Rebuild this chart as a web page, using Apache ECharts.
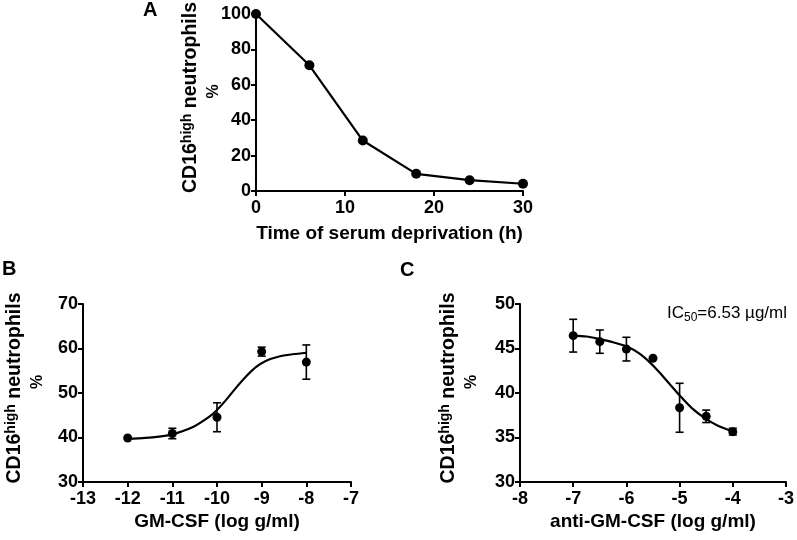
<!DOCTYPE html>
<html><head><meta charset="utf-8">
<script src="https://cdn.jsdelivr.net/npm/echarts@6.0.0/dist/echarts.min.js"></script>
<style>html,body{margin:0;padding:0;background:#fff}#c{width:797px;height:540px}</style>
</head><body><div id="c"></div>
<script>
// ---- Panel A: time course ----
const timeH = [0, 6, 12, 18, 24, 30];
const pctA = [100, 71, 28.5, 9.7, 6.1, 4.1];
const axisAx = [0, 30, 10];      // min, max, interval
const axisAy = [0, 100, 20];

// ---- Panel B: GM-CSF dose response ----
const gmX = [-12, -11, -10, -9, -8];
const gmMean = [39.9, 40.9, 44.55, 59.3, 56.95];
const gmErr = [0, 1.17, 3.25, 1.0, 3.85];
const gmCurveX = [-12, -11.6, -11.3, -11, -10.55, -10.17, -10, -9.8, -9.58, -9.35, -9.13, -8.91, -8.61, -8.31, -8];
const gmCurveY = [39.7, 39.9, 40.2, 40.7, 42.3, 44.7, 46.2, 48.4, 51.1, 53.7, 55.8, 57.2, 58.2, 58.7, 59.05];
const axisBx = [-13, -7, 1];
const axisBy = [30, 70, 10];

// ---- Panel C: anti-GM-CSF dose response ----
const antiX = [-7, -6.5, -6, -5.5, -5, -4.5, -4];
const antiMean = [46.44, 45.77, 44.93, 43.9, 38.34, 37.38, 35.66];
const antiErr = [1.84, 1.31, 1.33, 0, 2.75, 0.7, 0.38];
const antiCurveX = [-7, -6.75, -6.5, -6.25, -5.98, -5.76, -5.57, -5.39, -5.2, -4.98, -4.77, -4.52, -4.27, -4];
const antiCurveY = [46.45, 46.35, 46.05, 45.7, 45.2, 44.45, 43.5, 42.4, 41.1, 39.6, 38.3, 37.15, 36.3, 35.7];
const axisCx = [-8, -3, 1];
const axisCy = [30, 50, 5];

const panelLetters = ['A', 'B', 'C'];
const xTitles = ['Time of serum deprivation (h)', 'GM-CSF (log g/ml)', 'anti-GM-CSF (log g/ml)'];
const icText = ['IC', '50', '=6.53 µg/ml'];

const FF = '"Liberation Sans", Arial, sans-serif';
const BLACK = '#000';

function xAxisCfg(idx, rng, title, gap) {
  return {
    type: 'value', gridIndex: idx, min: rng[0], max: rng[1], interval: rng[2],
    name: title, nameLocation: 'middle', nameGap: gap, nameMoveOverlap: false,
    nameTextStyle: { fontFamily: FF, fontWeight: 'bold', fontSize: 19, color: BLACK },
    axisLine: { onZero: false, lineStyle: { color: BLACK, width: 2 } },
    axisTick: { show: true, length: 5, lineStyle: { color: BLACK, width: 2 } },
    axisLabel: { fontFamily: FF, fontWeight: 'bold', fontSize: 18, color: BLACK, margin: 8 },
    splitLine: { show: false }
  };
}
function yAxisCfg(idx, rng, gap) {
  return {
    type: 'value', gridIndex: idx, min: rng[0], max: rng[1], interval: rng[2],
    name: '{m|CD16}{s|high}{m| neutrophils}\n{p|%}', nameLocation: 'middle', nameGap: gap,
    nameMoveOverlap: false,
    nameTextStyle: {
      padding: [0, 0, 0, 10],
      rich: {
        m: { fontFamily: FF, fontWeight: 'bold', fontSize: 19.5, color: BLACK, lineHeight: 22 },
        s: { fontFamily: FF, fontWeight: 'bold', fontSize: 14, color: BLACK, lineHeight: 14, verticalAlign: 'top' },
        p: { fontFamily: FF, fontWeight: 'bold', fontSize: 16, color: BLACK, lineHeight: 23, padding: [0, 0, 0, 12] }
      }
    },
    axisLine: { onZero: false, lineStyle: { color: BLACK, width: 2 } },
    axisTick: { show: true, length: 5, lineStyle: { color: BLACK, width: 2 } },
    axisLabel: { fontFamily: FF, fontWeight: 'bold', fontSize: 18, color: BLACK, margin: 5 },
    splitLine: { show: false }
  };
}

function errRender(params, api) {
  const x = api.value(0), lo = api.value(1), hi = api.value(2);
  const a = api.coord([x, lo]), b = api.coord([x, hi]);
  const w = 4;
  const style = { stroke: BLACK, lineWidth: 1.6 };
  return {
    type: 'group', children: [
      { type: 'line', shape: { x1: a[0], y1: a[1], x2: b[0], y2: b[1] }, style },
      { type: 'line', shape: { x1: a[0] - w, y1: a[1], x2: a[0] + w, y2: a[1] }, style },
      { type: 'line', shape: { x1: b[0] - w, y1: b[1], x2: b[0] + w, y2: b[1] }, style }
    ]
  };
}
function errData(xs, m, e) {
  return xs.map((x, i) => [x, m[i] - e[i], m[i] + e[i]]).filter((d, i) => e[i] > 0);
}
const zip = (a, b) => a.map((v, i) => [v, b[i]]);

const chart = echarts.init(document.getElementById('c'), null, { renderer: 'canvas' });
chart.setOption({
  backgroundColor: '#fff',
  animation: false,
  grid: [
    { left: 256, top: 12, width: 267, height: 179 },
    { left: 83, top: 304, width: 268, height: 178 },
    { left: 520, top: 304, width: 268, height: 178 }
  ],
  xAxis: [
    xAxisCfg(0, axisAx, xTitles[0], 33),
    xAxisCfg(1, axisBx, xTitles[1], 30),
    xAxisCfg(2, axisCx, xTitles[2], 30)
  ],
  yAxis: [yAxisCfg(0, axisAy, 31), yAxisCfg(1, axisBy, 34), yAxisCfg(2, axisCy, 37)],
  series: [
    { type: 'line', xAxisIndex: 0, yAxisIndex: 0, data: zip(timeH, pctA),
      symbol: 'circle', symbolSize: 10, lineStyle: { color: BLACK, width: 2.2 }, itemStyle: { color: BLACK } },

    { type: 'line', xAxisIndex: 1, yAxisIndex: 1, data: zip(gmCurveX, gmCurveY), smooth: 0.3,
      showSymbol: false, lineStyle: { color: BLACK, width: 2.2 } },
    { type: 'custom', xAxisIndex: 1, yAxisIndex: 1, renderItem: errRender, data: errData(gmX, gmMean, gmErr) },
    { type: 'scatter', xAxisIndex: 1, yAxisIndex: 1, data: zip(gmX, gmMean), symbolSize: 9, itemStyle: { color: BLACK, opacity: 1 } },

    { type: 'line', xAxisIndex: 2, yAxisIndex: 2, data: zip(antiCurveX, antiCurveY), smooth: 0.3,
      showSymbol: false, lineStyle: { color: BLACK, width: 2.2 } },
    { type: 'custom', xAxisIndex: 2, yAxisIndex: 2, renderItem: errRender, data: errData(antiX, antiMean, antiErr) },
    { type: 'scatter', xAxisIndex: 2, yAxisIndex: 2, data: zip(antiX, antiMean), symbolSize: 9, itemStyle: { color: BLACK, opacity: 1 } }
  ],
  graphic: [
    { type: 'text', left: 143, top: 0, style: { text: panelLetters[0], font: 'bold 20px ' + FF, fill: BLACK } },
    { type: 'text', left: 2, top: 259, style: { text: panelLetters[1], font: 'bold 20px ' + FF, fill: BLACK } },
    { type: 'text', left: 400, top: 260, style: { text: panelLetters[2], font: 'bold 20px ' + FF, fill: BLACK } },
    { type: 'text', left: 667, top: 305, style: {
        text: '{a|' + icText[0] + '}{b|' + icText[1] + '}{a|' + icText[2] + '}',
        rich: {
          a: { fontFamily: FF, fontSize: 17, color: BLACK, lineHeight: 20 },
          b: { fontFamily: FF, fontSize: 12, color: BLACK, lineHeight: 12, verticalAlign: 'bottom' }
        }
    } }
  ]
});
</script>
</body></html>
